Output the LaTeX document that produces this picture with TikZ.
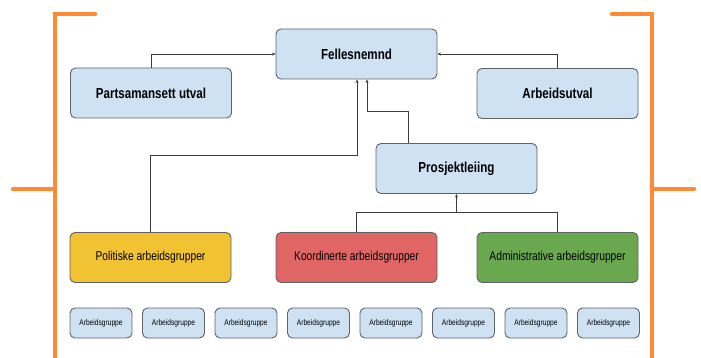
\documentclass[tikz,border=0pt]{standalone}
\usepackage{fontspec}
\setmainfont[FakeStretch=0.8]{Liberation Sans}
\usetikzlibrary{arrows.meta}
\definecolor{boxblue}{HTML}{CFE2F3}
\definecolor{boxyellow}{HTML}{F1C232}
\definecolor{boxred}{HTML}{E06666}
\definecolor{boxgreen}{HTML}{6AA84F}
\definecolor{bordergray}{HTML}{5F6368}
\definecolor{bracketorange}{HTML}{FF8A35}
\definecolor{linegray}{HTML}{3C3C3C}
\tikzset{
  basebox/.style={draw=bordergray, line width=0.9pt, rounded corners=5pt, inner sep=0pt, align=center},
  bigbox/.style={basebox, fill=boxblue, minimum width=161pt, minimum height=50pt, font=\fontsize{14.5}{17}\selectfont\bfseries},
  groupbox/.style={basebox, minimum width=161pt, minimum height=50pt, font=\fontsize{12.8}{15}\selectfont},
  smallbox/.style={basebox, fill=boxblue, minimum width=62pt, minimum height=30pt, font=\fontsize{8.3}{10}\selectfont},
  conn/.style={draw=linegray, line width=0.8pt, -{Stealth[length=3.5pt,width=3pt]}},
  plain/.style={draw=linegray, line width=0.8pt},
  bracket/.style={draw=bracketorange, line width=4.5pt, line cap=round}
}
\begin{document}
\begin{tikzpicture}[x=1pt,y=-1pt]
\useasboundingbox (0,0) rectangle (701,358);
% brackets
\draw[bracket] (95,14) -- (55,14) -- (55,362);
\draw[bracket] (13,189) -- (55,189);
\draw[bracket] (612,14) -- (652,14) -- (652,362);
\draw[bracket] (652,189) -- (694,189);
% main boxes
\node[bigbox] (fn) at (356.5,54) {Fellesnemnd};
\node[bigbox] (pa) at (151,93) {Partsamansett utval};
\node[bigbox] (au) at (557.5,93.5) {Arbeidsutval};
\node[bigbox] (pl) at (456.5,168.5) {Prosjektleiing};
\node[groupbox, fill=boxyellow] (pol) at (150.5,257.5) {Politiske arbeidsgrupper};
\node[groupbox, fill=boxred] (ko) at (356.5,257.5) {Koordinerte arbeidsgrupper};
\node[groupbox, fill=boxgreen] (ad) at (557.5,257.5) {Administrative arbeidsgrupper};
% small boxes
\node[smallbox] (s1) at (101,323) {Arbeidsgruppe};
\node[smallbox] (s2) at (173.5,323) {Arbeidsgruppe};
\node[smallbox] (s3) at (246,323) {Arbeidsgruppe};
\node[smallbox] (s4) at (318.5,323) {Arbeidsgruppe};
\node[smallbox] (s5) at (391,323) {Arbeidsgruppe};
\node[smallbox] (s6) at (463.5,323) {Arbeidsgruppe};
\node[smallbox] (s7) at (536,323) {Arbeidsgruppe};
\node[smallbox] (s8) at (608.5,323) {Arbeidsgruppe};
% connectors
\draw[conn] (pa.north) |- (fn.west);
\draw[conn] (au.north) |- (fn.east);
\coordinate (j1) at (357,155);
\draw[conn] (pol.north) |- (j1) -- (j1 |- fn.south);
\coordinate (j2) at (408,111);
\coordinate (j3) at (367,111);
\draw[conn] (j2 |- pl.north) -- (j2) -- (j3) -- (j3 |- fn.south);
\coordinate (j4) at (456.5,212);
\draw[plain] (ko.north) |- (ad.north |- j4) -- (ad.north);
\draw[conn] (j4) -- (pl.south);
\end{tikzpicture}
\end{document}
